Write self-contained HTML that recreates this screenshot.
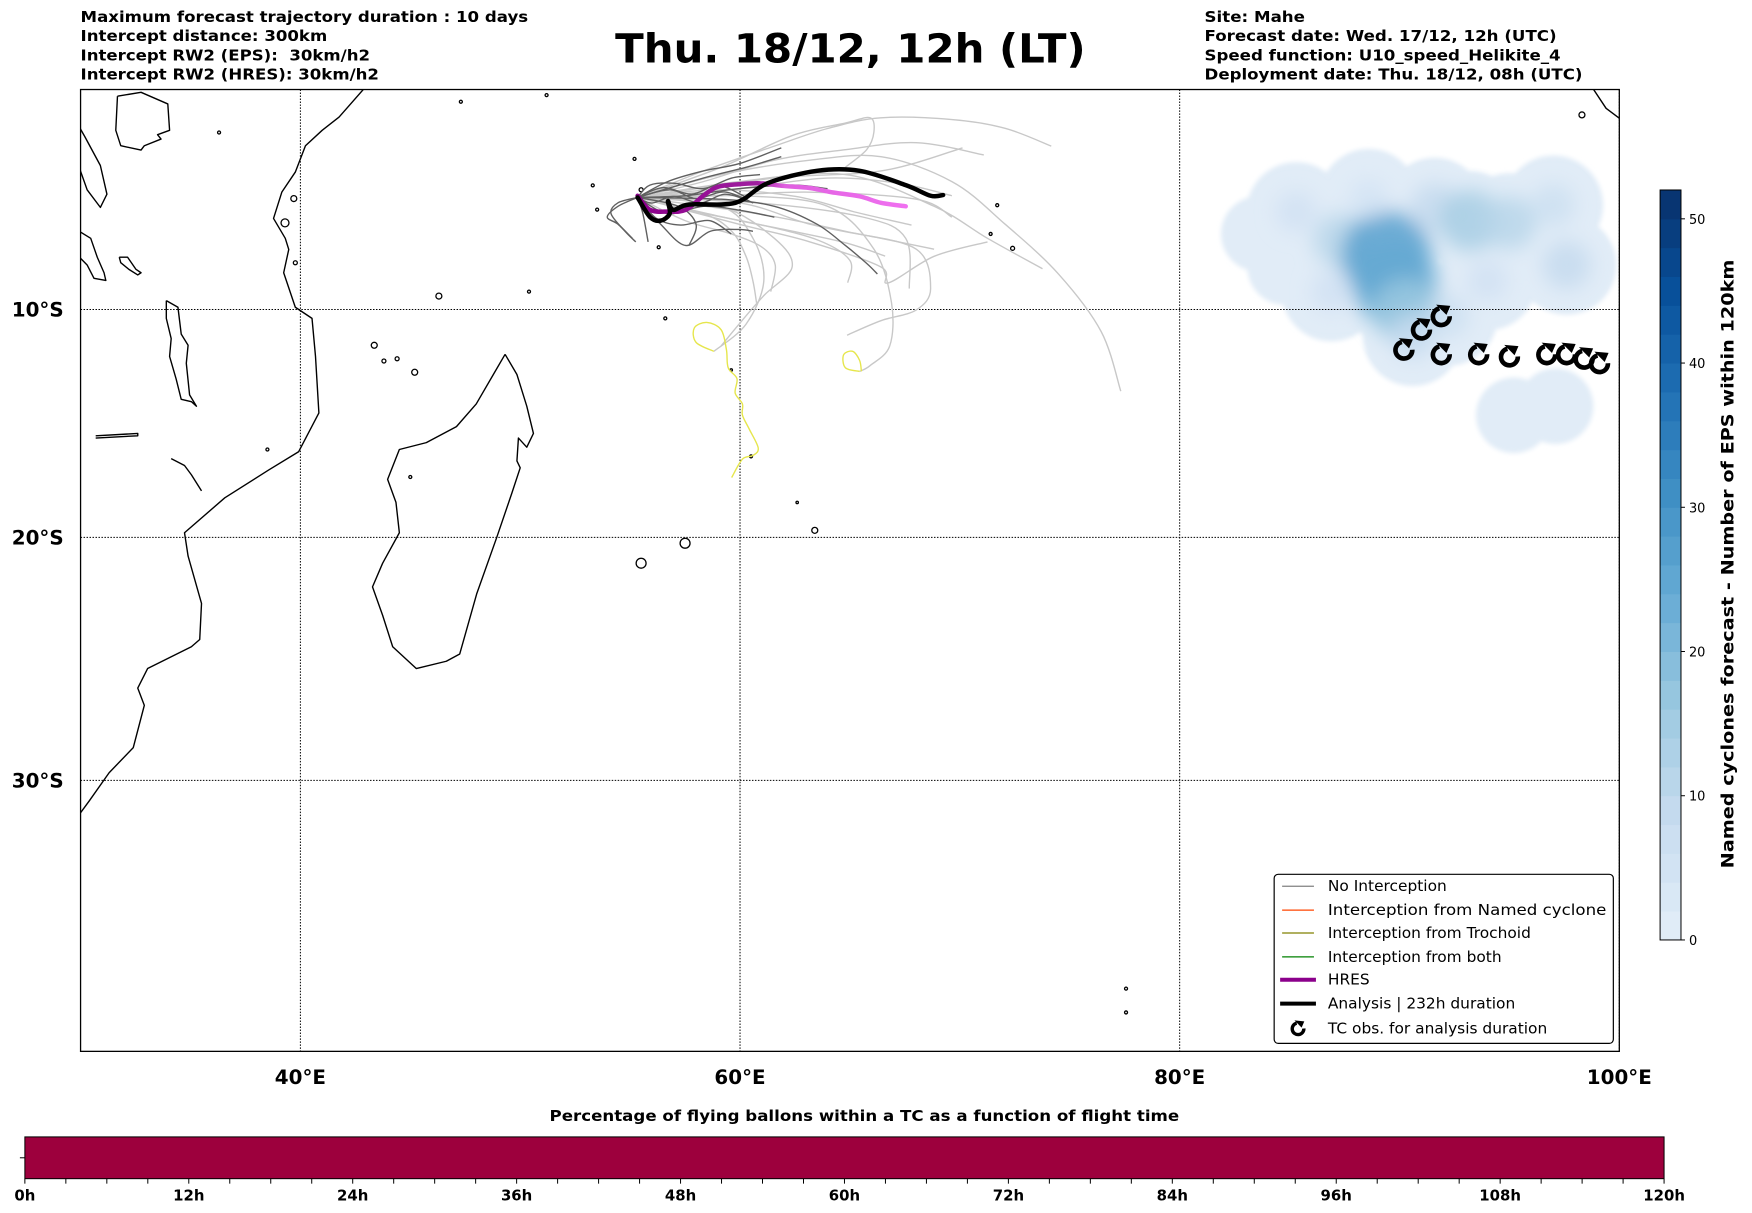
<!DOCTYPE html>
<html><head><meta charset="utf-8">
<style>
html,body{margin:0;padding:0;background:#fff;}
svg{display:block;}
text{font-family:"DejaVu Sans","Liberation Sans",sans-serif;}
</style></head>
<body>
<svg id="chart" width="1752" height="1213" viewBox="0 0 1761.4 1219.5" preserveAspectRatio="xMinYMin meet" xmlns="http://www.w3.org/2000/svg">
<defs>
  <clipPath id="mapclip"><rect x="81" y="90" width="1547" height="967"/></clipPath>
  <filter id="blur1" x="-50%" y="-50%" width="200%" height="200%"><feGaussianBlur stdDeviation="2.5"/></filter>
  <filter id="blur2" x="-50%" y="-50%" width="200%" height="200%"><feGaussianBlur stdDeviation="10"/></filter>
  <linearGradient id="hresgrad" x1="0" x2="1" y1="0" y2="0">
    <stop offset="0" stop-color="#8b008b"/><stop offset="0.45" stop-color="#a020a0"/><stop offset="0.55" stop-color="#e060e0"/><stop offset="1" stop-color="#f070f0"/>
  </linearGradient>
</defs>

<g font-weight="bold" font-size="15">
  <text x="81" y="22" textLength="450" lengthAdjust="spacingAndGlyphs">Maximum forecast trajectory duration : 10 days</text>
  <text x="81" y="41" textLength="248" lengthAdjust="spacingAndGlyphs">Intercept distance: 300km</text>
  <text x="81" y="61" textLength="291" lengthAdjust="spacingAndGlyphs" xml:space="preserve">Intercept RW2 (EPS):  30km/h2</text>
  <text x="81" y="80" textLength="300" lengthAdjust="spacingAndGlyphs">Intercept RW2 (HRES): 30km/h2</text>
</g>
<text x="855" y="63" text-anchor="middle" font-weight="bold" font-size="40" textLength="473" lengthAdjust="spacingAndGlyphs">Thu. 18/12, 12h (LT)</text>
<g font-weight="bold" font-size="15">
  <text x="1211" y="22" textLength="101" lengthAdjust="spacingAndGlyphs">Site: Mahe</text>
  <text x="1211" y="41" textLength="354" lengthAdjust="spacingAndGlyphs">Forecast date: Wed. 17/12, 12h (UTC)</text>
  <text x="1211" y="61" textLength="358" lengthAdjust="spacingAndGlyphs">Speed function: U10_speed_Helikite_4</text>
  <text x="1211" y="80" textLength="380" lengthAdjust="spacingAndGlyphs">Deployment date: Thu. 18/12, 08h (UTC)</text>
</g>

<g id="map" clip-path="url(#mapclip)">
  <g id="heat"></g>
  <g id="coast"></g>
  <g id="grid"></g>
  <g id="traj"></g>
  <g id="tc"></g>
</g>
<rect x="81" y="90" width="1547" height="967" fill="none" stroke="#000" stroke-width="1.3"/>
<g id="axlabels" font-weight="bold" font-size="20"></g>

<g transform="translate(7,4)">
  <rect x="1274" y="875" width="341" height="170" rx="4" fill="#fff" stroke="#000" stroke-width="1.2"/>
  <g font-size="15.5">
    <line x1="1282" x2="1314" y1="887" y2="887" stroke="#808080" stroke-width="1.2"/>
    <text x="1328" y="892">No Interception</text>
    <line x1="1282" x2="1314" y1="911" y2="911" stroke="#ff4500" stroke-width="1.2"/>
    <text x="1328" y="916" textLength="280" lengthAdjust="spacingAndGlyphs">Interception from Named cyclone</text>
    <line x1="1282" x2="1314" y1="934" y2="934" stroke="#808000" stroke-width="1.2"/>
    <text x="1328" y="939">Interception from Trochoid</text>
    <line x1="1282" x2="1314" y1="958" y2="958" stroke="#008000" stroke-width="1.2"/>
    <text x="1328" y="963">Interception from both</text>
    <line x1="1280" x2="1316" y1="981" y2="981" stroke="#8b008b" stroke-width="4"/>
    <text x="1328" y="986">HRES</text>
    <line x1="1280" x2="1316" y1="1005" y2="1005" stroke="#000" stroke-width="4"/>
    <text x="1328" y="1010">Analysis | 232h duration</text>
    <g transform="translate(1298,1030) scale(0.9)">
      <path d="M-1.5 -6 A6.5 6.5 0 1 0 6.5 0" fill="none" stroke="#000" stroke-width="3.8"/>
      <path d="M-4 -9 L7 -8 L4 -1 Z" fill="#000"/>
    </g>
    <text x="1328" y="1035">TC obs. for analysis duration</text>
  </g>
</g>

<g id="cbar"></g>
<text transform="translate(1743,567) rotate(-90)" text-anchor="middle" font-weight="bold" font-size="17" textLength="612" lengthAdjust="spacingAndGlyphs">Named cyclones forecast - Number of EPS within 120km</text>

<text x="869" y="1127" text-anchor="middle" font-weight="bold" font-size="15" textLength="633" lengthAdjust="spacingAndGlyphs">Percentage of flying ballons within a TC as a function of flight time</text>
<rect x="25" y="1143" width="1648" height="42" fill="#9d003d" stroke="#000" stroke-width="1"/>
<line x1="20" x2="25" y1="1164" y2="1164" stroke="#000" stroke-width="1"/>
<g id="hticks" font-weight="bold" font-size="15"></g>

<script>
// ---------- data ----------
const lonTicks = [40, 60, 80, 100];
const latTicks = [-10, -20, -30];
const hourTicks = [0, 12, 24, 36, 48, 60, 72, 84, 96, 108, 120];
const cbarTicks = [0, 10, 20, 30, 40, 50];
const cbarMax = 52;

const analysisLon = [55.34,55.91,56.39,56.80,56.72,56.96,57.69,59.79,61.24,63.50,65.44,67.54,68.67,69.24];
const analysisLat = [-4.95,-5.84,-6.0,-5.68,-5.11,-5.51,-5.27,-5.19,-4.31,-3.74,-3.74,-4.39,-4.87,-4.84];
const hresLon = [55.34,55.91,56.72,57.53,58.33,58.98,59.95,60.92,61.89,63.18,64.15,65.44,66.41,67.54];
const hresLat = [-4.87,-5.51,-5.59,-5.51,-4.87,-4.47,-4.35,-4.31,-4.42,-4.52,-4.71,-4.9,-5.19,-5.35];

const epsLon = [
 [55.34,58.33,61.56,63.98,66.41,69.64,72.06,74.16],
 [55.34,59.14,63.18,66.41,69.64,72.06,74.49,76.43,77.32],
 [55.34,59.95,64.79,68.83,71.26,73.76],
 [55.34,59.95,63.98,66.09,66.89,66.81,65.92,65.44],
 [55.34,60.75,64.79,68.02,68.67,68.02,66.41,64.87],
 [55.34,59.14,60.59,61.08,60.27,58.81],
 [55.34,58.33,61.56,64.79,68.02,71.09],
 [55.34,59.95,63.98,67.22,69.64],
 [55.34,59.95,63.18,66.41,68.83],
 [55.34,59.14,61.56,62.37,61.08,59.95,59.14],
 [55.34,60.75,65.6,67.54,67.7],
 [55.34,59.95,63.18,66.41,66.73,68.83,71.26],
 [55.34,59.14,62.37,64.79,65.92,66.09,65.76,64.79],
 [55.34,58.33,59.62,60.27,60.59,60.75],
 [55.34,59.14,63.18,68.02,69.64],
 [55.34,61.56,66.41,70.12],
 [55.34,58.9,62.5,65.2,67.8],
 [55.34,59.5,62.0,64.8,66.6],
 [55.34,57.5,59.6,61.0,61.6,61.4],
 [55.34,58.0,61.0,63.6,65.0,64.9]
];
const epsLat = [
 [-4.95,-3.75,-2.62,-1.82,-1.33,-1.41,-1.81,-2.62],
 [-4.95,-3.91,-3.26,-3.1,-4.23,-6.16,-8.41,-10.99,-13.64],
 [-4.95,-4.23,-3.91,-5.35,-6.8,-8.17],
 [-4.95,-4.87,-5.35,-7.29,-9.7,-11.63,-12.5,-12.76],
 [-4.95,-5.68,-6.48,-7.29,-9.06,-10.02,-10.5,-11.15],
 [-4.95,-5.35,-6.8,-8.73,-10.66,-11.87],
 [-4.95,-4.23,-3.26,-2.78,-2.46,-3.02],
 [-4.95,-4.55,-4.07,-4.31,-4.87],
 [-4.95,-5.19,-6.16,-6.8,-7.29],
 [-4.95,-5.35,-6.8,-8.09,-9.38,-10.66,-11.63],
 [-4.95,-5.19,-5.84,-6.8,-9.06],
 [-4.95,-6.16,-6.96,-8.09,-8.81,-7.61,-6.96],
 [-4.95,-3.58,-2.14,-1.57,-1.33,-1.98,-2.78,-3.58],
 [-4.95,-5.68,-6.48,-7.61,-8.73,-9.7],
 [-4.95,-4.87,-4.71,-5.03,-5.84],
 [-4.95,-4.07,-3.75,-2.7],
 [-4.95,-4.6,-4.9,-5.6,-6.2],
 [-4.95,-5.9,-6.4,-7.0,-7.6],
 [-4.95,-6.0,-6.6,-7.2,-8.0,-9.2],
 [-4.95,-5.6,-6.2,-6.9,-7.8,-8.8]
];
const darkLon = [
 [55.34,56.71,58.33,59.95,61.88],
 [55.34,57.52,59.94,62.37,63.98],
 [55.34,56.71,58.33,59.94,61.56],
 [55.34,54.45,53.96,54.45,55.1],
 [55.34,56.39,57.52,58.65,59.94,60.59],
 [55.34,59.14,61.56,63.5,64.79,65.76,66.25],
 [55.34,55.9,57.04,58.33,59.62,60.91],
 [55.34,55.58,55.82],
 [55.34,57.2,58.0,57.68],
 [55.34,58.33,60.27,61.88],
 [55.34,54.45,54.13,54.77,55.26],
 [55.34,56.5,57.8,59.0,60.2],
 [55.34,56.2,57.3,58.6,59.6],
 [55.34,56.0,57.0,58.2,59.3,60.4],
 [55.34,56.8,58.0,59.3,60.6]
];
const darkLat = [
 [-4.95,-4.23,-3.75,-3.42,-2.7],
 [-4.95,-4.87,-4.55,-4.39,-4.55],
 [-4.95,-5.68,-5.35,-5.52,-5.84],
 [-4.95,-5.35,-5.84,-6.16,-6.8],
 [-4.95,-6.16,-7.12,-6.48,-6.4,-6.48],
 [-4.95,-5.03,-5.35,-6.16,-7.12,-7.93,-8.41],
 [-4.95,-4.39,-4.31,-4.55,-4.07,-3.91],
 [-4.95,-5.68,-6.96],
 [-4.95,-5.35,-6.16,-7.12],
 [-4.95,-4.07,-3.58,-3.1],
 [-4.95,-5.19,-5.68,-6.48,-6.96],
 [-4.95,-4.5,-4.8,-4.4,-4.9],
 [-4.95,-5.9,-6.2,-6.0,-6.6],
 [-4.95,-5.2,-4.9,-5.2,-4.8,-5.1],
 [-4.95,-4.6,-5.0,-4.7,-5.2]
];
const yellowLon = [
 [58.81,58.0,57.92,58.49,59.14,59.38,59.46,59.86,59.78,60.11,60.11,60.43,60.83,60.59,60.11,59.62],
 [65.44,64.79,64.71,65.12,65.44,65.52]
];
const yellowLat = [
 [-11.87,-11.47,-10.83,-10.58,-10.91,-11.79,-12.6,-13.08,-13.72,-14.2,-14.69,-15.33,-16.14,-16.46,-16.62,-17.42],
 [-12.76,-12.6,-12.03,-11.87,-12.27,-12.76]
];

const tcLon = [90.2,91.0,91.9,91.9,93.6,95.0,96.7,97.6,98.4,99.1];
const tcLat = [-11.8,-10.9,-10.3,-12.0,-12.0,-12.1,-12.0,-12.0,-12.2,-12.4];

const heatLon = [83.6,85.3,87.3,89.4,89.8,90.3,90.6,91.6,93.2,95.0,97.0,97.6,86.9,94.0,92.2,88.6,84.8,95.2,97.1];
const heatLat = [-6.6,-5.6,-6.9,-7.6,-8.9,-10.1,-11.2,-5.4,-6.0,-6.1,-5.3,-8.0,-9.2,-8.7,-10.3,-5.0,-8.1,-14.7,-14.3];
const heatVal = [3,5,10,24,22,15,7,8,13,10,6,8,5,5,6,4,3,3,3];

const coastLon = [
 [42.9,41.76,40.99,40.23,39.77,39.16,38.78,39.31,39.47,39.24,39.77,40.53,40.69,40.84,39.92,38.55,36.56,34.73,34.89,35.5,35.42,35.04,33.05,32.6,32.9,32.4,31.3,30.4,29.8],
 [49.31,49.85,50.3,50.6,50.3,49.92,49.85,50.0,49.62,48.93,48.02,47.25,46.64,45.27,44.2,43.74,43.28,43.74,44.5,44.35,43.97,44.5,45.73,47.1,48.0,48.78,49.31],
 [33.9,34.43,34.58,34.89,34.81,34.96,35.27,35.04,34.58,34.35,34.05,34.12,33.9,33.9],
 [29.8,30.46,30.76,31.07,31.15,30.61,30.3,29.8],
 [31.76,32.14,32.52,32.75,32.6,32.2,31.83,31.76],
 [31.68,32.75,33.97,34.05,33.5,33.66,32.9,32.75,31.83,31.6,31.68],
 [30.69,32.6,32.6,30.69],
 [34.12,34.73,35.04,35.5],
 [98.8,99.4,100.2],
 [29.8,30.2,30.9,31.2,30.9,30.3,29.8]
];
const coastLat = [
 [0,-1.3,-1.9,-2.6,-3.8,-4.7,-5.9,-6.8,-7.3,-8.35,-9.9,-10.4,-12.1,-14.6,-16.3,-17.1,-18.3,-19.8,-20.8,-22.8,-24.3,-24.6,-25.5,-26.3,-27.0,-28.7,-29.7,-30.8,-31.5],
 [-12.0,-12.9,-14.3,-15.5,-16.1,-15.7,-16.7,-17.0,-18.1,-20,-22.4,-24.9,-25.2,-25.5,-24.6,-23.3,-22.1,-21.1,-19.8,-18.5,-17.5,-16.2,-15.9,-15.2,-14.2,-12.9,-12.0],
 [-9.6,-9.9,-11.1,-11.6,-12.4,-13.8,-14.3,-14.1,-14.0,-13.1,-12.1,-11.3,-10.4,-9.6],
 [-6.4,-6.8,-7.65,-8.35,-8.7,-8.6,-8.0,-7.5],
 [-7.65,-7.65,-8.2,-8.35,-8.45,-8.2,-7.9,-7.65],
 [-0.35,-0.17,-0.7,-1.9,-2.1,-2.3,-2.6,-2.8,-2.6,-1.9,-0.35],
 [-15.6,-15.5,-15.6,-15.7],
 [-16.6,-16.9,-17.3,-18.0],
 [0,-0.9,-1.5],
 [-1.5,-2.2,-3.5,-4.8,-5.4,-4.6,-3.2]
];
const islandLon = [43.36,43.8,44.4,45.2,39.7,39.3,39.77,57.5,55.5,63.4,55.5,53.5,56.3,56.6,60.5,71.7,71.4,72.4,77.56,77.56,46.3,50.4,47.3,51.2,98.3,38.5,36.3,53.3,55.2,45.0,59.6,62.6];
const islandLat = [-11.6,-12.3,-12.2,-12.8,-5.0,-6.1,-7.9,-20.25,-21.1,-19.7,-4.6,-5.5,-7.2,-10.4,-16.5,-5.3,-6.6,-7.25,-37.85,-38.7,-9.4,-9.2,-0.6,-0.3,-1.2,-16.2,-2.0,-4.4,-3.2,-17.4,-12.7,-18.5];
const islandSize = [3,2,2,3,3,4,2,5,5,3,2,1.5,1.5,1.5,1.5,1.5,1.5,2,1.5,1.5,3,1.5,1.5,1.5,3,1.5,1.5,1.5,1.5,1.5,1.2,1.2];

// ---------- projection ----------
const X0 = 81, PXDEG = 22.1, Y0 = 89, K = PXDEG * 180 / Math.PI;
function px(lon){ return X0 + (lon - 30) * PXDEG; }
function py(lat){ const r = lat * Math.PI / 180; return Y0 - K * Math.log(Math.tan(Math.PI/4 + r/2)); }
const NS = "http://www.w3.org/2000/svg";
function mk(tag, attrs, parent){ const e = document.createElementNS(NS, tag); for (const k in attrs) e.setAttribute(k, attrs[k]); parent.appendChild(e); return e; }
function smooth(lons, lats){
  const p = lons.map((l,i)=>[px(l), py(lats[i])]);
  let d = "M" + p[0][0].toFixed(1) + " " + p[0][1].toFixed(1);
  for (let i = 0; i < p.length - 1; i++){
    const a = p[Math.max(i-1,0)], b = p[i], c = p[i+1], e = p[Math.min(i+2,p.length-1)];
    const c1 = [b[0] + (c[0]-a[0])/6, b[1] + (c[1]-a[1])/6];
    const c2 = [c[0] - (e[0]-b[0])/6, c[1] - (e[1]-b[1])/6];
    d += " C" + c1[0].toFixed(1) + " " + c1[1].toFixed(1) + " " + c2[0].toFixed(1) + " " + c2[1].toFixed(1) + " " + c[0].toFixed(1) + " " + c[1].toFixed(1);
  }
  return d;
}
function poly(lons, lats){ return lons.map((l,i)=>(i?"L":"M") + px(l).toFixed(1) + " " + py(lats[i]).toFixed(1)).join(" "); }
const blues = ["#f7fbff","#deebf7","#c6dbef","#9ecae1","#6baed6","#4292c6","#2171b5","#08519c","#08306b"];
function hex(c){ return [1,3,5].map(i=>parseInt(c.substr(i,2),16)); }
function bluesColor(v){
  let t = Math.max(0, Math.min(1, v / cbarMax)); t = 0.1 + 0.9 * t;
  const s = t * (blues.length - 1), i = Math.min(Math.floor(s), blues.length - 2), f = s - i;
  const a = hex(blues[i]), b = hex(blues[i+1]);
  return "rgb(" + a.map((x,j)=>Math.round(x + (b[j]-x)*f)).join(",") + ")";
}

// ---------- heatmap ----------
const heat = document.getElementById("heat");
const base = mk("g", {filter: "url(#blur1)"}, heat);
heatLon.forEach((l,i)=>{
  const c = mk("circle", {cx: px(l), cy: py(heatLat[i]), r: heatVal[i] > 3 ? 50 : 38, fill: "#e1ecf7"}, base);
  
  
});
const core = mk("g", {filter: "url(#blur2)"}, heat);
heatLon.forEach((l,i)=>{
  if (heatVal[i] <= 3) return;
  const c = mk("circle", {cx: px(l), cy: py(heatLat[i]), r: 14 + heatVal[i] * 1.3, fill: bluesColor(heatVal[i] * 1.1), opacity: 0.85}, core);
  
  
});

// ---------- coastlines ----------
const coast = document.getElementById("coast");
coastLon.forEach((ls,i)=>{
  const p = mk("path", {d: poly(ls, coastLat[i]), fill: "none", stroke: "#000", "stroke-width": 1.4, "stroke-linejoin": "round"}, coast);
  
  
});
islandLon.forEach((l,i)=>{
  const c = mk("circle", {cx: px(l), cy: py(islandLat[i]), r: islandSize[i], fill: "none", stroke: "#000", "stroke-width": 1.3}, coast);
  
  
});

// ---------- grid ----------
const grid = document.getElementById("grid");
lonTicks.forEach(l=>{
  const g = mk("line", {x1: px(l), x2: px(l), y1: 90, y2: 1057, stroke: "#000", "stroke-width": 1, "stroke-dasharray": "1.5,1.5"}, grid);
  
  
});
latTicks.forEach(l=>{
  const g = mk("line", {x1: 81, x2: 1628, y1: py(l), y2: py(l), stroke: "#000", "stroke-width": 1, "stroke-dasharray": "1.5,1.5"}, grid);
  
  
});
const axl = document.getElementById("axlabels");
lonTicks.forEach(l=>{
  const t = mk("text", {x: px(l), y: 1090, "text-anchor": "middle"}, axl);
  t.textContent = l + "°E";
  
  
});
latTicks.forEach(l=>{
  const t = mk("text", {x: 64, y: py(l) + 7, "text-anchor": "end"}, axl);
  t.textContent = Math.abs(l) + "°S";
  
  
});

// ---------- trajectories ----------
const traj = document.getElementById("traj");
epsLon.forEach((ls,i)=>{
  const p = mk("path", {d: smooth(ls, epsLat[i]), fill: "none", stroke: "#c8c8c8", "stroke-width": 1.4}, traj);
  
  
});
yellowLon.forEach((ls,i)=>{
  const p = mk("path", {d: smooth(ls, yellowLat[i]), fill: "none", stroke: "#e6e64c", "stroke-width": 1.4}, traj);
  
  
});
darkLon.forEach((ls,i)=>{
  const p = mk("path", {d: smooth(ls, darkLat[i]), fill: "none", stroke: "#606060", "stroke-width": 1.4}, traj);
  
  
});
const hres = mk("path", {d: smooth(hresLon, hresLat), fill: "none", stroke: "url(#hresgrad)", "stroke-width": 4.5, "stroke-linecap": "round"}, traj);


const ana = mk("path", {d: smooth(analysisLon, analysisLat), fill: "none", stroke: "#000", "stroke-width": 4.5, "stroke-linecap": "round", "stroke-linejoin": "round"}, traj);



// ---------- TC markers ----------
const tc = document.getElementById("tc");
tcLon.forEach((l,i)=>{
  const g = mk("g", {transform: "translate(" + px(l).toFixed(1) + "," + py(tcLat[i]).toFixed(1) + ") scale(1.3)"}, tc);
  
  
  mk("path", {d: "M-1.5 -6 A6.5 6.5 0 1 0 6.5 0", fill: "none", stroke: "#000", "stroke-width": 3.6}, g);
  mk("path", {d: "M-4 -9 L7 -8 L4 -1 Z", fill: "#000"}, g);
});

// ---------- right colorbar ----------
const cb = document.getElementById("cbar");
const cbX = 1669, cbW = 21, cbTop = 191, cbBot = 945;
function cy(v){ return cbBot - (v / cbarMax) * (cbBot - cbTop); }
for (let v = 0; v < cbarMax; v += 2){
  const r = mk("rect", {x: cbX, y: cy(v + 2), width: cbW, height: cy(v) - cy(v + 2) + 0.5, fill: bluesColor(v + 1)}, cb);
  
  
}
mk("rect", {x: cbX, y: cbTop, width: cbW, height: cbBot - cbTop, fill: "none", stroke: "#000", "stroke-width": 1}, cb);
cbarTicks.forEach(v=>{
  mk("line", {x1: cbX + cbW, x2: cbX + cbW + 4, y1: cy(v), y2: cy(v), stroke: "#000"}, cb);
  const t = mk("text", {x: cbX + cbW + 8, y: cy(v) + 5, "font-size": 13}, cb);
  t.textContent = v;
  
  
});

// ---------- bottom hour axis ----------
const ht = document.getElementById("hticks");
function hx(h){ return 25 + h / 120 * 1648; }
for (let h = 0; h <= 120; h += 3){
  mk("line", {x1: hx(h), x2: hx(h), y1: 1185, y2: 1190, stroke: "#000", "stroke-width": 1}, ht);
}
hourTicks.forEach(h=>{
  const t = mk("text", {x: hx(h), y: 1207, "text-anchor": "middle"}, ht);
  t.textContent = h + "h";
  
  
});
</script>
</body></html>
